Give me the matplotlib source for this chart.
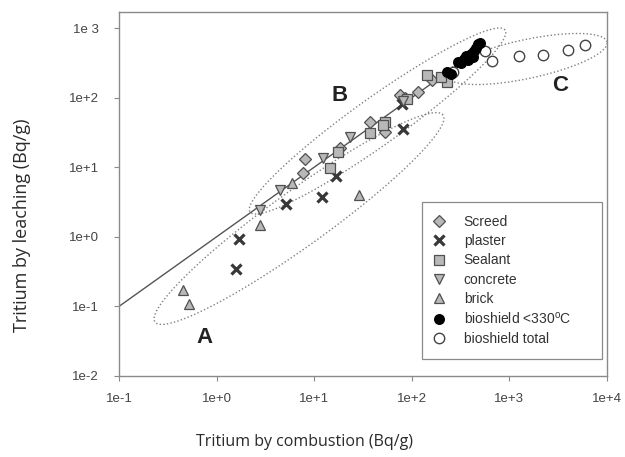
import numpy as np
import matplotlib
matplotlib.use("Agg")
import matplotlib.pyplot as plt

# Tritium activity: combustion (x) vs leaching (y), Bq/g
screed_x = [8.0, 7.7, 18.4, 37, 53, 76, 117, 160, 85]
screed_y = [13.1, 8.3, 18.7, 45, 32, 109, 122, 179, 100]

plaster_x = [1.58, 1.70, 5.1, 11.9, 16.7, 82, 80]
plaster_y = [0.34, 0.92, 3.0, 3.7, 7.5, 35, 80]

sealant_x = [14.5, 17.5, 37, 53, 51, 142, 228, 90, 200]
sealant_y = [9.6, 16.7, 30.7, 45, 40, 211, 169, 95, 200]

concrete_x = [2.8, 4.5, 12.3, 23.3, 82]
concrete_y = [2.4, 4.7, 13.4, 27.4, 90]

brick_x = [0.45, 0.52, 2.8, 29, 5.9]
brick_y = [0.17, 0.108, 1.48, 4.0, 5.9]

bio330_x = [228, 250, 300, 320, 340, 360, 380, 400, 420, 430, 460, 480, 500]
bio330_y = [236, 215, 330, 310, 360, 400, 350, 420, 380, 460, 520, 580, 600]

biototal_x = [264, 560, 660, 1250, 2200, 4000, 5950]
biototal_y = [236, 460, 340, 400, 415, 480, 570]

x_ticks = [1e-1, 1e0, 1e1, 1e2, 1e3, 1e4]
x_ticklabels = ["1e-1", "1e+0", "1e+1", "1e+2", "1e+3", "1e+4"]
y_ticks = [1e-2, 1e-1, 1e0, 1e1, 1e2, 1e3]
y_ticklabels = ["1e-2", "1e-1", "1e+0", "1e+1", "1e+2", "1e 3"]

# 1:1 reference line
ref_x = [0.1, 500]
ref_y = [0.1, 500]

# group outlines: two end points along the long axis + half width (pt)
groups = {
    "A": ((0.234, 0.0597), (209, 56.2), 20),
    "B": ((2.2, 2.27), (902, 936), 17),
    "C": ((229, 204), (10000, 630), 14),
}
group_labels = {"A": (0.76, 0.036), "B": (18.4, 109), "C": (3300, 151)}

fig = plt.figure(figsize=(6.25, 4.57), dpi=100)
ax = fig.add_axes([119 / 625, 81 / 457, 488 / 625, 364 / 457])
ax.set_xscale("log")
ax.set_yscale("log")
ax.set_xlim(1e-1, 1e4)
ax.set_ylim(1e-2, 10 ** 3.23)

spine_c = "#8a8a8a"
for s in ax.spines.values():
    s.set_color(spine_c)
    s.set_linewidth(1.0)

ax.set_xticks(x_ticks)
ax.set_xticklabels(x_ticklabels)
ax.set_yticks(y_ticks)
ax.set_yticklabels(y_ticklabels)
ax.minorticks_off()
ax.tick_params(axis="both", which="major", direction="out", length=3.5,
               width=0.8, color=spine_c, labelcolor="#444444", labelsize=9.5)
ax.tick_params(axis="x", pad=9)
ax.tick_params(axis="y", pad=11)
for lab in ax.get_xticklabels() + ax.get_yticklabels():
    lab.set_family("Liberation Sans")

ax.plot(ref_x, ref_y, color="#555555", lw=1.0, zorder=2, scalex=False, scaley=False)


def outline(p0, p1, half_pt):
    T = ax.transData
    a = T.transform(p0)
    b = T.transform(p1)
    c = (a + b) / 2
    d = b - a
    L = np.hypot(*d) / 2
    u = d / (2 * L)
    n = np.array([-u[1], u[0]])
    hw = half_pt * fig.dpi / 72
    t = np.linspace(0, 2 * np.pi, 400)
    pts = c + np.outer(L * np.cos(t), u) + np.outer(hw * np.sin(t), n)
    dd = T.inverted().transform(pts)
    ax.plot(dd[:, 0], dd[:, 1], color="#808080", lw=1.0,
            linestyle=(0, (1, 1.6)), zorder=1, scalex=False, scaley=False)


for key, (p0, p1, hw) in groups.items():
    outline(p0, p1, hw)

for key, (lx, ly) in group_labels.items():
    ax.text(lx, ly, key, fontsize=16, fontweight="bold", family="Liberation Sans",
            color="#222222", ha="center", va="center")

fill = "#b8b8b8"
edge = "#505050"
ms = 6.8
ax.plot(screed_x, screed_y, "D", ms=5.8, mfc=fill, mec=edge, mew=0.9, ls="none",
        label="Screed", zorder=4)
ax.plot(plaster_x, plaster_y, "x", ms=7, mec="#383838", mew=2.3, ls="none",
        label="plaster", zorder=4)
ax.plot(sealant_x, sealant_y, "s", ms=ms, mfc=fill, mec=edge, mew=0.9, ls="none",
        label="Sealant", zorder=4)
ax.plot(concrete_x, concrete_y, "v", ms=ms, mfc=fill, mec=edge, mew=0.9, ls="none",
        label="concrete", zorder=4)
ax.plot(brick_x, brick_y, "^", ms=ms, mfc=fill, mec=edge, mew=0.9, ls="none",
        label="brick", zorder=4)
ax.plot(bio330_x, bio330_y, "o", ms=7, mfc="black", mec="black", mew=0.9, ls="none",
        label="bioshield <330$^\\mathregular{o}$C", zorder=5)
ax.plot(biototal_x, biototal_y, "o", ms=7.5, mfc="white", mec="#444444", mew=1.0, ls="none",
        label="bioshield total", zorder=4)

leg = ax.legend(loc="upper left", bbox_to_anchor=(0.621, 0.478, 0.369, 0),
                mode="expand", borderaxespad=0, frameon=True, fancybox=False,
                edgecolor="#8a8a8a", framealpha=1, borderpad=0.95, labelspacing=0.37,
                handlelength=0.6, handletextpad=1.45,
                prop={"family": "Liberation Sans", "size": 10})
leg.get_frame().set_linewidth(0.9)
for t in leg.get_texts():
    t.set_color("#333333")

fig.text(305 / 625, 1 - 442 / 457, "Tritium by combustion (Bq/g)", family="Open Sans",
         fontsize=11.5, color="#2a2a2a", ha="center", va="center")
fig.text(22 / 625, 1 - 225 / 457, "Tritium by leaching (Bq/g)", family="Open Sans",
         fontsize=13, color="#2a2a2a", ha="center", va="center", rotation=90)

fig.savefig("out.png", dpi=100)
